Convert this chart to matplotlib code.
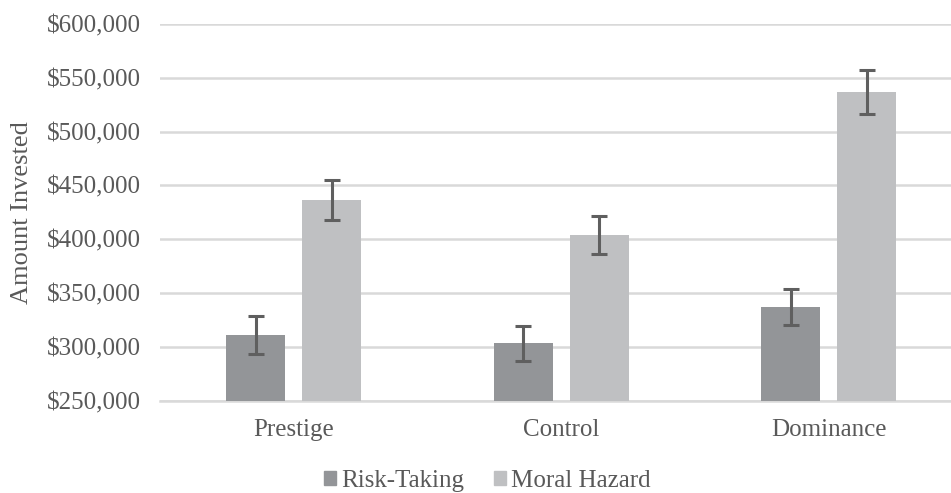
import matplotlib.pyplot as plt
import numpy as np
from matplotlib.ticker import FuncFormatter
from matplotlib.patches import Patch

conditions = ['Prestige', 'Control', 'Dominance']
risk_taking = [310900, 303100, 336700]
risk_err = [17500, 16500, 16800]
moral_hazard = [436400, 404000, 537100]
moral_err = [19000, 17600, 20500]

plt.rcParams['font.family'] = ['Liberation Serif', 'DejaVu Serif']

text_col = '#595959'
rt_col = '#939598'
mh_col = '#bfc0c2'

fig = plt.figure(figsize=(9.51, 4.93), dpi=100)
ax = fig.add_axes([160 / 951, 92.5 / 493, 802.5 / 951, 376.5 / 493])

x = np.arange(len(conditions))
w = 0.222
off = 0.142
err_kw = dict(ecolor='#5f5f5f', elinewidth=2.2, capsize=6, capthick=2.2)
ax.bar(x - off, risk_taking, w, yerr=risk_err, color=rt_col, error_kw=err_kw, zorder=3)
ax.bar(x + off, moral_hazard, w, yerr=moral_err, color=mh_col, error_kw=err_kw, zorder=3)

ax.set_xlim(-0.5, 2.5)
ax.set_ylim(250000, 600000)
ax.set_yticks(np.arange(250000, 600001, 50000))
ax.yaxis.set_major_formatter(FuncFormatter(lambda v, p: '${:,.0f}'.format(v)))
ax.set_xticks(x)
ax.set_xticklabels(conditions)

ax.grid(axis='y', color='#d9d9d9', linewidth=1.8, zorder=0)
for s in ['top', 'right', 'left']:
    ax.spines[s].set_visible(False)
ax.spines['bottom'].set_color('#d9d9d9')
ax.spines['bottom'].set_linewidth(1.8)
ax.tick_params(axis='both', length=0, labelsize=18, labelcolor=text_col)
ax.tick_params(axis='y', pad=14)
ax.tick_params(axis='x', pad=13)
ax.set_ylabel('Amount Invested', fontsize=19, color=text_col)
ax.yaxis.set_label_coords(-0.158, 0.5)

handles = [Patch(color=rt_col), Patch(color=mh_col)]
fig.legend(handles, ['Risk-Taking', 'Moral Hazard'], loc='center', bbox_to_anchor=(487.5 / 951, 12 / 493),
           ncol=2, frameon=False, fontsize=18, labelcolor=text_col,
           handlelength=0.48, handleheight=0.48, handletextpad=0.2, columnspacing=1.2,
           borderaxespad=0, borderpad=0)

fig.savefig('out.png', dpi=100)
